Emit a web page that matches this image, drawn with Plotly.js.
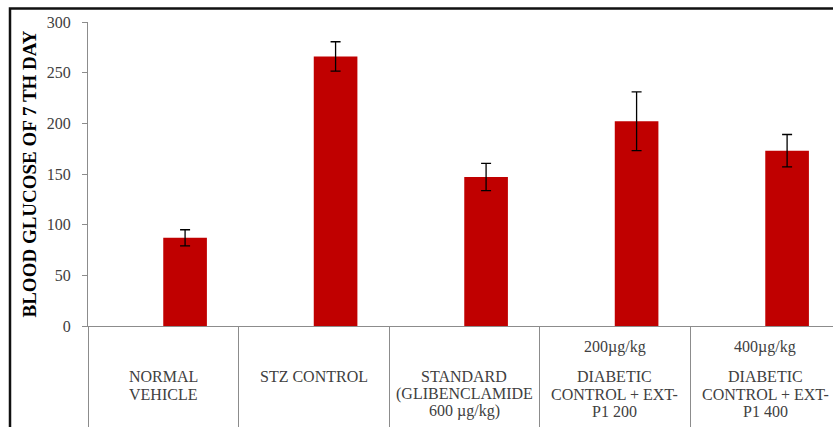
<!DOCTYPE html>
<html>
<head>
<meta charset="utf-8">
<script src="https://cdn.plot.ly/plotly-3.0.1.min.js"></script>
<style>
  html, body { margin: 0; padding: 0; background: #ffffff; }
  #chart { width: 833px; height: 427px; }
</style>
</head>
<body>
<div id="chart"></div>
<script>
// Treatment groups (one bar each)
const groups = ["NORMAL VEHICLE", "STZ CONTROL", "STANDARD", "EXT-P1 200", "EXT-P1 400"];
// Multi-line group labels shown under the axis
const groupLines = [
  ["NORMAL", "VEHICLE"],
  ["STZ CONTROL"],
  ["STANDARD", "(GLIBENCLAMIDE", "600 µg/kg)"],
  ["DIABETIC", "CONTROL + EXT-", "P1 200"],
  ["DIABETIC", "CONTROL + EXT-", "P1 400"]
];
// Dose line printed above the extract groups
const doseLabels = ["", "", "", "200µg/kg", "400µg/kg"];
// Blood glucose on day 7 (mean) and its error
const glucose = [87, 266, 147, 202, 173];
const glucoseErr = [8, 14.5, 13.5, 29, 16];
const yTicks = [0, 50, 100, 150, 200, 250, 300];

const serif = "Liberation Serif, Times New Roman, serif";
const labelColor = "#404040";
const gridGrey = "#8c8c8c";

// plot area: 88..833 px horizontally, 22..326 px vertically
const plotTop = 22, plotBottom = 326;
const plotH = plotBottom - plotTop;
const toPaperY = px => (plotBottom - px) / plotH;

const rowY = [377, 394, 411];
const annotations = [];
groupLines.forEach((lines, i) => {
  lines.forEach((t, r) => {
    annotations.push({
      text: t, x: groups[i], xref: "x", y: toPaperY(rowY[r]), yref: "paper",
      xanchor: "center", yanchor: "middle", showarrow: false,
      font: { family: serif, size: 16, color: labelColor }
    });
  });
  if (doseLabels[i]) {
    annotations.push({
      text: doseLabels[i], x: groups[i], xref: "x", y: toPaperY(347), yref: "paper",
      xanchor: "center", yanchor: "middle", showarrow: false,
      font: { family: serif, size: 16, color: labelColor }
    });
  }
});

const trace = {
  type: "bar",
  x: groups,
  y: glucose,
  width: 0.29,
  offset: 0,
  marker: { color: "#C00000", line: { width: 0 } },
  error_y: { type: "data", array: glucoseErr, visible: true, color: "#000000", thickness: 1.3, width: 5 },
  hoverinfo: "skip"
};

const layout = {
  width: 833,
  height: 427,
  margin: { l: 88, r: 0, t: plotTop, b: 427 - plotBottom, pad: 0 },
  paper_bgcolor: "#ffffff",
  plot_bgcolor: "#ffffff",
  showlegend: false,
  xaxis: {
    type: "category",
    range: [-0.5, 4.45],
    showgrid: false,
    zeroline: false,
    showline: true,
    linecolor: gridGrey,
    linewidth: 1,
    ticks: "outside",
    tickson: "boundaries",
    ticklen: 105,
    tickcolor: gridGrey,
    tickwidth: 1,
    showticklabels: false,
    fixedrange: true
  },
  yaxis: {
    range: [0, 300],
    tickvals: yTicks,
    showgrid: false,
    zeroline: false,
    showline: true,
    linecolor: gridGrey,
    linewidth: 1,
    ticks: "outside",
    ticklen: 5,
    tickcolor: gridGrey,
    ticklabelstandoff: 8,
    tickfont: { family: serif, size: 16, color: labelColor },
    title: {
      text: "<b>BLOOD GLUCOSE OF 7 TH DAY</b>",
      font: { family: serif, size: 19, color: "#000000" },
      standoff: 5
    },
    fixedrange: true
  },
  annotations: annotations,
  shapes: [
    // outer frame (top and left edges)
    {
      type: "path", xref: "paper", yref: "paper",
      path: "M " + (-78 / 745) + "," + (-0.5) + " L " + (-78 / 745) + "," + toPaperY(8.5) + " L 1.1," + toPaperY(8.5),
      line: { color: "#111111", width: 2.5 }, layer: "above"
    }
  ]
};

Plotly.newPlot("chart", [trace], layout, { displayModeBar: false, staticPlot: true });
</script>
</body>
</html>
